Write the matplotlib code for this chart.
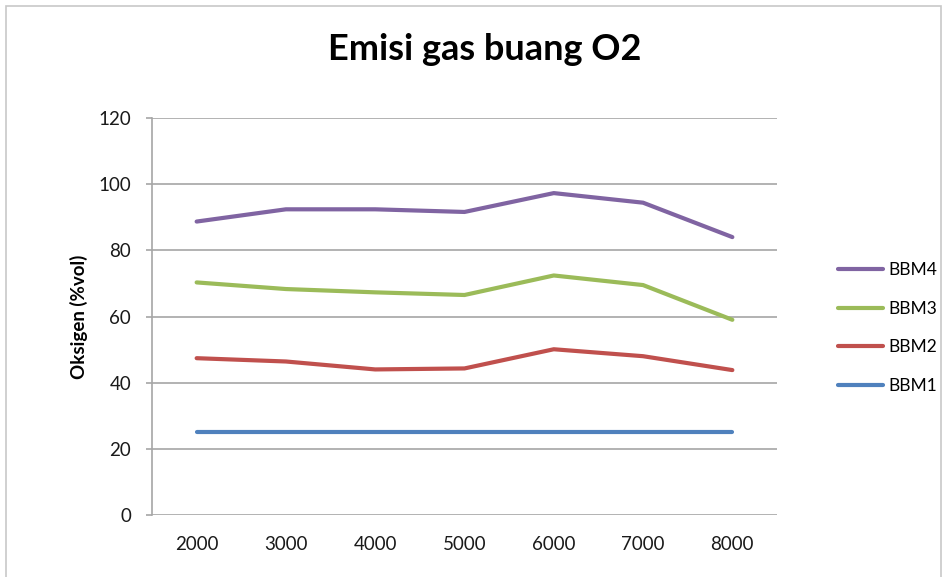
import matplotlib
matplotlib.use("Agg")
import matplotlib.pyplot as plt
from matplotlib.patches import Rectangle

categories = ["2000", "3000", "4000", "5000", "6000", "7000", "8000"]
bbm1 = [25, 25, 25, 25, 25, 25, 25]
bbm2 = [47.4, 46.4, 44.0, 44.3, 50.1, 48.0, 43.8]
bbm3 = [70.3, 68.3, 67.3, 66.5, 72.4, 69.5, 59.0]
bbm4 = [88.7, 92.4, 92.4, 91.6, 97.3, 94.4, 84.0]
yticks = [0, 20, 40, 60, 80, 100, 120]

plt.rcParams['font.family'] = ['Lato', 'DejaVu Sans']

W, H = 948, 577
fig = plt.figure(figsize=(W / 100, H / 100), dpi=100)
fig.patch.set_facecolor("white")

# outer chart border
fig.add_artist(Rectangle((6 / W, -0.05), (941 - 6) / W, 1.05 - 6 / H,
                         transform=fig.transFigure, fill=False,
                         edgecolor="#c8c8c8", linewidth=1.2))

ax = fig.add_axes([152 / W, 1 - 515 / H, (777 - 152) / W, (515 - 118) / H])
x = list(range(len(categories)))

series = [("BBM4", bbm4, "#8064A2"), ("BBM3", bbm3, "#9BBB59"),
          ("BBM2", bbm2, "#C0504D"), ("BBM1", bbm1, "#4F81BD")]
for name, vals, col in series:
    ax.plot(x, vals, color=col, linewidth=3.0, solid_capstyle="round",
            solid_joinstyle="round", label=name, zorder=3)

ax.set_xlim(-0.5, len(categories) - 0.5)
ax.set_ylim(0, 120)
ax.set_yticks(yticks)
ax.set_xticks(x)
ax.set_xticklabels(categories)
ax.yaxis.grid(True, color="#a6a6a6", linewidth=1.2)
ax.set_axisbelow(True)
for s in ["top", "right", "bottom"]:
    ax.spines[s].set_visible(False)
ax.spines["left"].set_color("#a6a6a6")
ax.spines["left"].set_linewidth(1.2)
ax.tick_params(axis="y", length=4, width=1.2, color="#a6a6a6", labelsize=13.5,
               pad=11, labelcolor="#1a1a1a")
ax.tick_params(axis="x", length=0, labelsize=13.5, pad=15, labelcolor="#1a1a1a")

ax.set_ylabel("Oksigen (%vol)", fontsize=13.5, fontweight="bold", labelpad=0)
ax.yaxis.set_label_coords((88 - 152) / (777 - 152), 0.5)

fig.text(485 / W, 1 - 50 / H, "Emisi gas buang O2", ha="center", va="center",
         fontsize=26, fontweight="bold")

handles, labels = ax.get_legend_handles_labels()
leg = fig.legend(handles, labels, loc="center left",
                 bbox_to_anchor=(831 / W, 1 - 328 / H), frameon=False,
                 fontsize=12.5, handlelength=2.6, handletextpad=0.3,
                 labelspacing=1.3, borderaxespad=0)

fig.savefig("out.png", dpi=100, facecolor="white")
